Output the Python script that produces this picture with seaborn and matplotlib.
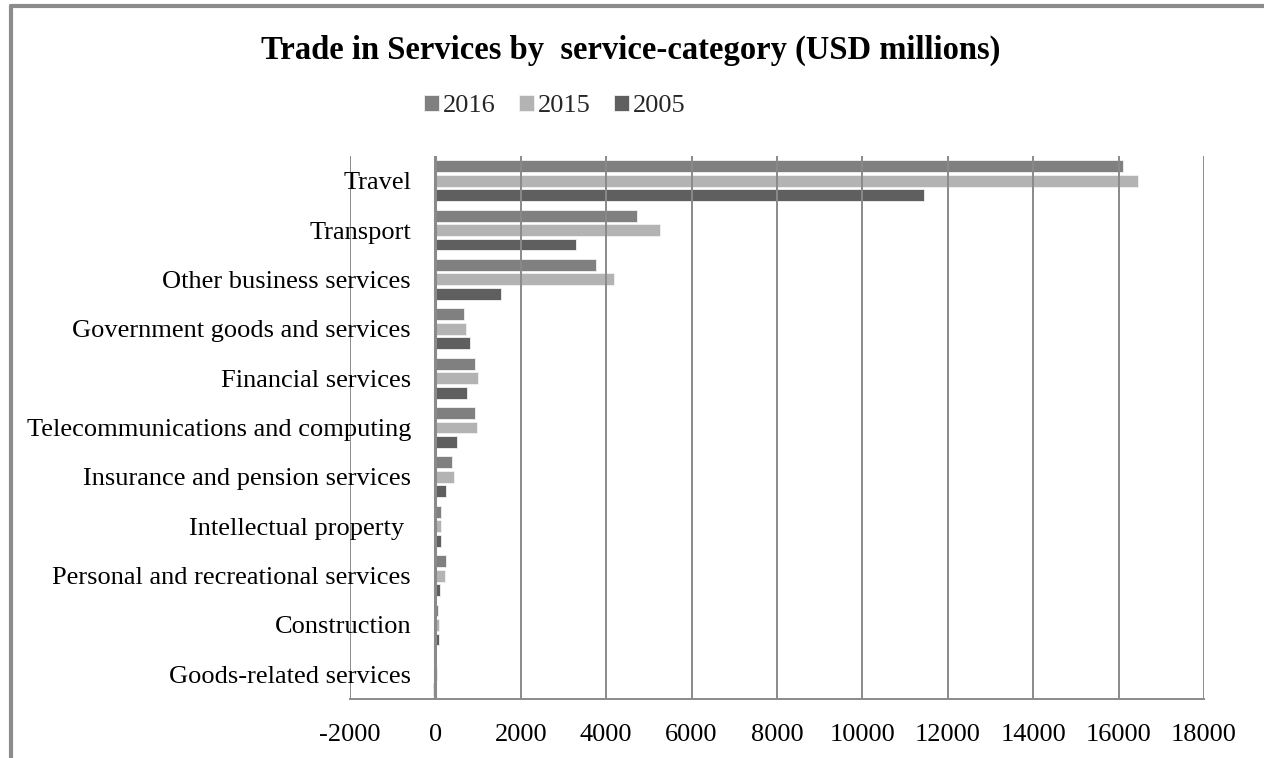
import matplotlib
matplotlib.use("Agg")
import matplotlib.pyplot as plt
from matplotlib.lines import Line2D
import numpy as np
import pandas as pd
import seaborn as sns

# Service categories, top to bottom
categories = [
    "Travel",
    "Transport",
    "Other business services",
    "Government goods and services",
    "Financial services",
    "Telecommunications and computing",
    "Insurance and pension services",
    "Intellectual property ",
    "Personal and recreational services",
    "Construction",
    "Goods-related services",
]
years = ["2016", "2015", "2005"]

# Trade values, USD millions
values_2016 = [16100, 4730, 3750, 660, 930, 930, 390, 140, 260, 55, 20]
values_2015 = [16460, 5270, 4190, 710, 1000, 970, 445, 140, 230, 85, 30]
values_2005 = [11440, 3290, 1530, 800, 740, 515, 240, 140, 115, 95, -50]

x_ticks = list(range(-2000, 18001, 2000))

df = pd.DataFrame({
    "category": categories * 3,
    "year": ["2016"] * len(categories) + ["2015"] * len(categories) + ["2005"] * len(categories),
    "value": values_2016 + values_2015 + values_2005,
})

sns.set_theme(style="white")
plt.rcParams["font.family"] = ["Liberation Serif", "DejaVu Serif"]

palette = {"2016": "#808080", "2015": "#b3b3b3", "2005": "#5f5f5f"}

fig = plt.figure(figsize=(12.64, 7.58), dpi=100)
ax = fig.add_axes([0.2769, 0.0778, 0.9525 - 0.2769, 0.7942 - 0.0778])

sns.barplot(
    data=df, x="value", y="category", hue="year",
    order=categories, hue_order=years, palette=palette,
    orient="h", width=0.88, gap=0.18, saturation=1,
    edgecolor="#f2f2f2", linewidth=0.6, ax=ax,
)

ax.set_xlim(-2000, 18000)
ax.set_xticks(x_ticks)
ax.set_xticklabels([str(t) for t in x_ticks])
ax.set_xlabel("")
ax.set_ylabel("")

grid_col = "#8a8a8a"
ax.grid(axis="x", color=grid_col, linewidth=1.4)
ax.grid(axis="y", visible=False)
ax.set_axisbelow(False)
ax.axvline(0, color=grid_col, linewidth=2.2, zorder=5)

for side in ["top", "right", "left"]:
    ax.spines[side].set_visible(False)
ax.spines["bottom"].set_color(grid_col)
ax.spines["bottom"].set_linewidth(1.4)

ax.tick_params(axis="x", length=0, pad=18, labelsize=19, labelcolor="black")
ax.tick_params(axis="y", length=0, pad=-44, labelsize=19, labelcolor="black")
for lab in ax.get_yticklabels():
    lab.set_horizontalalignment("right")

# Legend above the plot
handles, labels = ax.get_legend_handles_labels()
ax.get_legend().remove()
fig.legend(
    handles, labels, loc="center", bbox_to_anchor=(0.439, 0.86),
    ncol=3, frameon=False, fontsize=19,
    handlelength=0.55, handleheight=0.55, handletextpad=0.15,
    columnspacing=0.9,
)

fig.text(0.4992, 0.934, "Trade in Services by  service-category (USD millions)",
         ha="center", va="center", fontsize=23.5, fontweight="bold", color="black")

# Chart frame (top and left edges)
frame_col = "#8c8c8c"
fig.add_artist(Line2D([0.0087, 1.0], [0.9925, 0.9925], transform=fig.transFigure,
                      color=frame_col, linewidth=3))
fig.add_artist(Line2D([0.0087, 0.0087], [0.9925, 0.0], transform=fig.transFigure,
                      color=frame_col, linewidth=3))

fig.savefig("out.png", dpi=100, facecolor="white")
